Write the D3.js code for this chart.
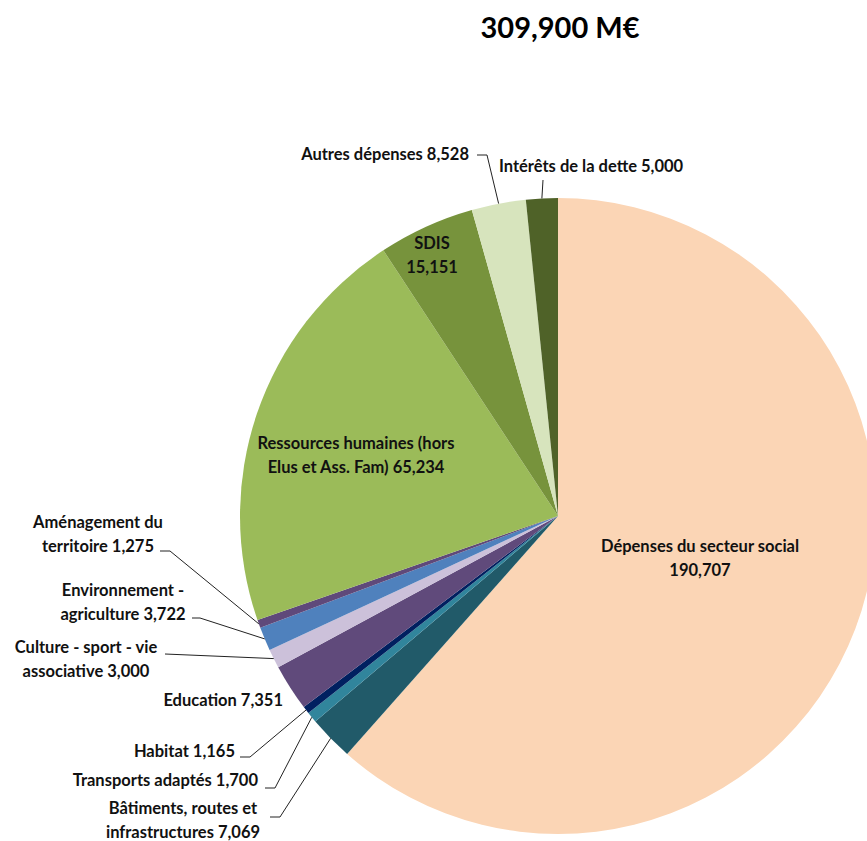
<!DOCTYPE html>
<html>
<head>
<meta charset="utf-8">
<script src="https://cdn.jsdelivr.net/npm/d3@7"></script>
<style>
  body { margin: 0; background: #fff; }
  svg { display: block; font-family: Lato, "Open Sans", sans-serif; font-weight: 700; }
</style>
</head>
<body>
<div id="pie-chart"></div>
<script>
// Budget breakdown, M€ (clockwise from 12 o'clock)
var categories = [
    "Dépenses du secteur social",
    "Bâtiments, routes et infrastructures",
    "Transports adaptés",
    "Habitat",
    "Education",
    "Culture - sport - vie associative",
    "Environnement - agriculture",
    "Aménagement du territoire",
    "Ressources humaines (hors Elus et Ass. Fam)",
    "SDIS",
    "Autres dépenses",
    "Intérêts de la dette"
];
var values = [190707, 7069, 1700, 1165, 7351, 3000, 3722, 1275, 65234, 15151, 8528, 5000];
var valueLabels = ["190,707", "7,069", "1,700", "1,165", "7,351", "3,000", "3,722", "1,275", "65,234", "15,151", "8,528", "5,000"];
var totalLabel = "309,900 M€";

var colors = ["#fbd5b5", "#215a69", "#31859c", "#002060", "#604a7b", "#ccc1da",
              "#4f81bd", "#5f497a", "#9bbb59", "#77933c", "#d7e4bd", "#4f6228"];

// label text lines + placement (layout only)
var labelLayout = [
    {lines: ["Dépenses du secteur social", "190,707"], x: 700, y: 552, anchor: "middle"},
    {lines: ["Bâtiments, routes et", "infrastructures 7,069"], x: 183, y: 814, anchor: "middle", elbow: [[270, 817], [280, 817]]},
    {lines: ["Transports adaptés 1,700"], x: 258, y: 786, anchor: "end", elbow: [[265, 788], [275, 788]]},
    {lines: ["Habitat 1,165"], x: 235, y: 757, anchor: "end", elbow: [[240, 757], [250, 757]]},
    {lines: ["Education 7,351"], x: 283, y: 706, anchor: "end"},
    {lines: ["Culture - sport - vie", "associative 3,000"], x: 86, y: 653, anchor: "middle", elbow: [[165, 654]]},
    {lines: ["Environnement -", "agriculture 3,722"], x: 123, y: 596, anchor: "middle", elbow: [[192, 618], [200, 618]]},
    {lines: ["Aménagement du", "territoire 1,275"], x: 98, y: 528, anchor: "middle", elbow: [[160, 551], [170, 551]]},
    {lines: ["Ressources humaines (hors", "Elus et Ass. Fam) 65,234"], x: 356, y: 449, anchor: "middle"},
    {lines: ["SDIS", "15,151"], x: 432, y: 249, anchor: "middle"},
    {lines: ["Autres dépenses 8,528"], x: 469, y: 160, anchor: "end", elbow: [[477, 155], [487, 155]]},
    {lines: ["Intérêts de la dette 5,000"], x: 499, y: 172, anchor: "start", elbow: [[543, 180]]}
];

var width = 867, height = 841;
var cx = 558, cy = 516, radius = 318;

var svg = d3.select("#pie-chart").append("svg")
    .attr("width", width)
    .attr("height", height);

svg.append("text")
    .attr("x", 560)
    .attr("y", 38)
    .style("text-anchor", "middle")
    .style("font-size", "29px")
    .attr("fill", "#000")
    .text(totalLabel);

var pie = d3.pie().sort(null).value(function(d) { return d; });
var arcs = pie(values);

var arc = d3.arc().innerRadius(0).outerRadius(radius);

var g = svg.append("g")
    .attr("transform", "translate(" + cx + "," + cy + ")");

g.selectAll("path.slice")
    .data(arcs)
  .enter().append("path")
    .attr("class", "slice")
    .attr("d", arc)
    .style("fill", function(d, i) { return colors[i]; });

// leader lines: elbow -> pie edge at mid angle
arcs.forEach(function(a, i) {
    var lay = labelLayout[i];
    if (!lay.elbow) return;
    var mid = (a.startAngle + a.endAngle) / 2;
    var edge = [cx + radius * Math.sin(mid), cy - radius * Math.cos(mid)];
    var pts = lay.elbow.concat([edge]);
    svg.append("path")
        .attr("d", d3.line()(pts))
        .attr("fill", "none")
        .attr("stroke", "#222")
        .attr("stroke-width", 1);
});

// labels
labelLayout.forEach(function(lay, i) {
    var t = svg.append("text")
        .attr("x", lay.x)
        .attr("y", lay.y)
        .style("text-anchor", lay.anchor)
        .style("font-size", "16.5px")
        .attr("fill", "#111");
    lay.lines.forEach(function(line, j) {
        t.append("tspan")
            .attr("x", lay.x)
            .attr("dy", j === 0 ? 0 : 23.5)
            .text(line);
    });
});
</script>
</body>
</html>
